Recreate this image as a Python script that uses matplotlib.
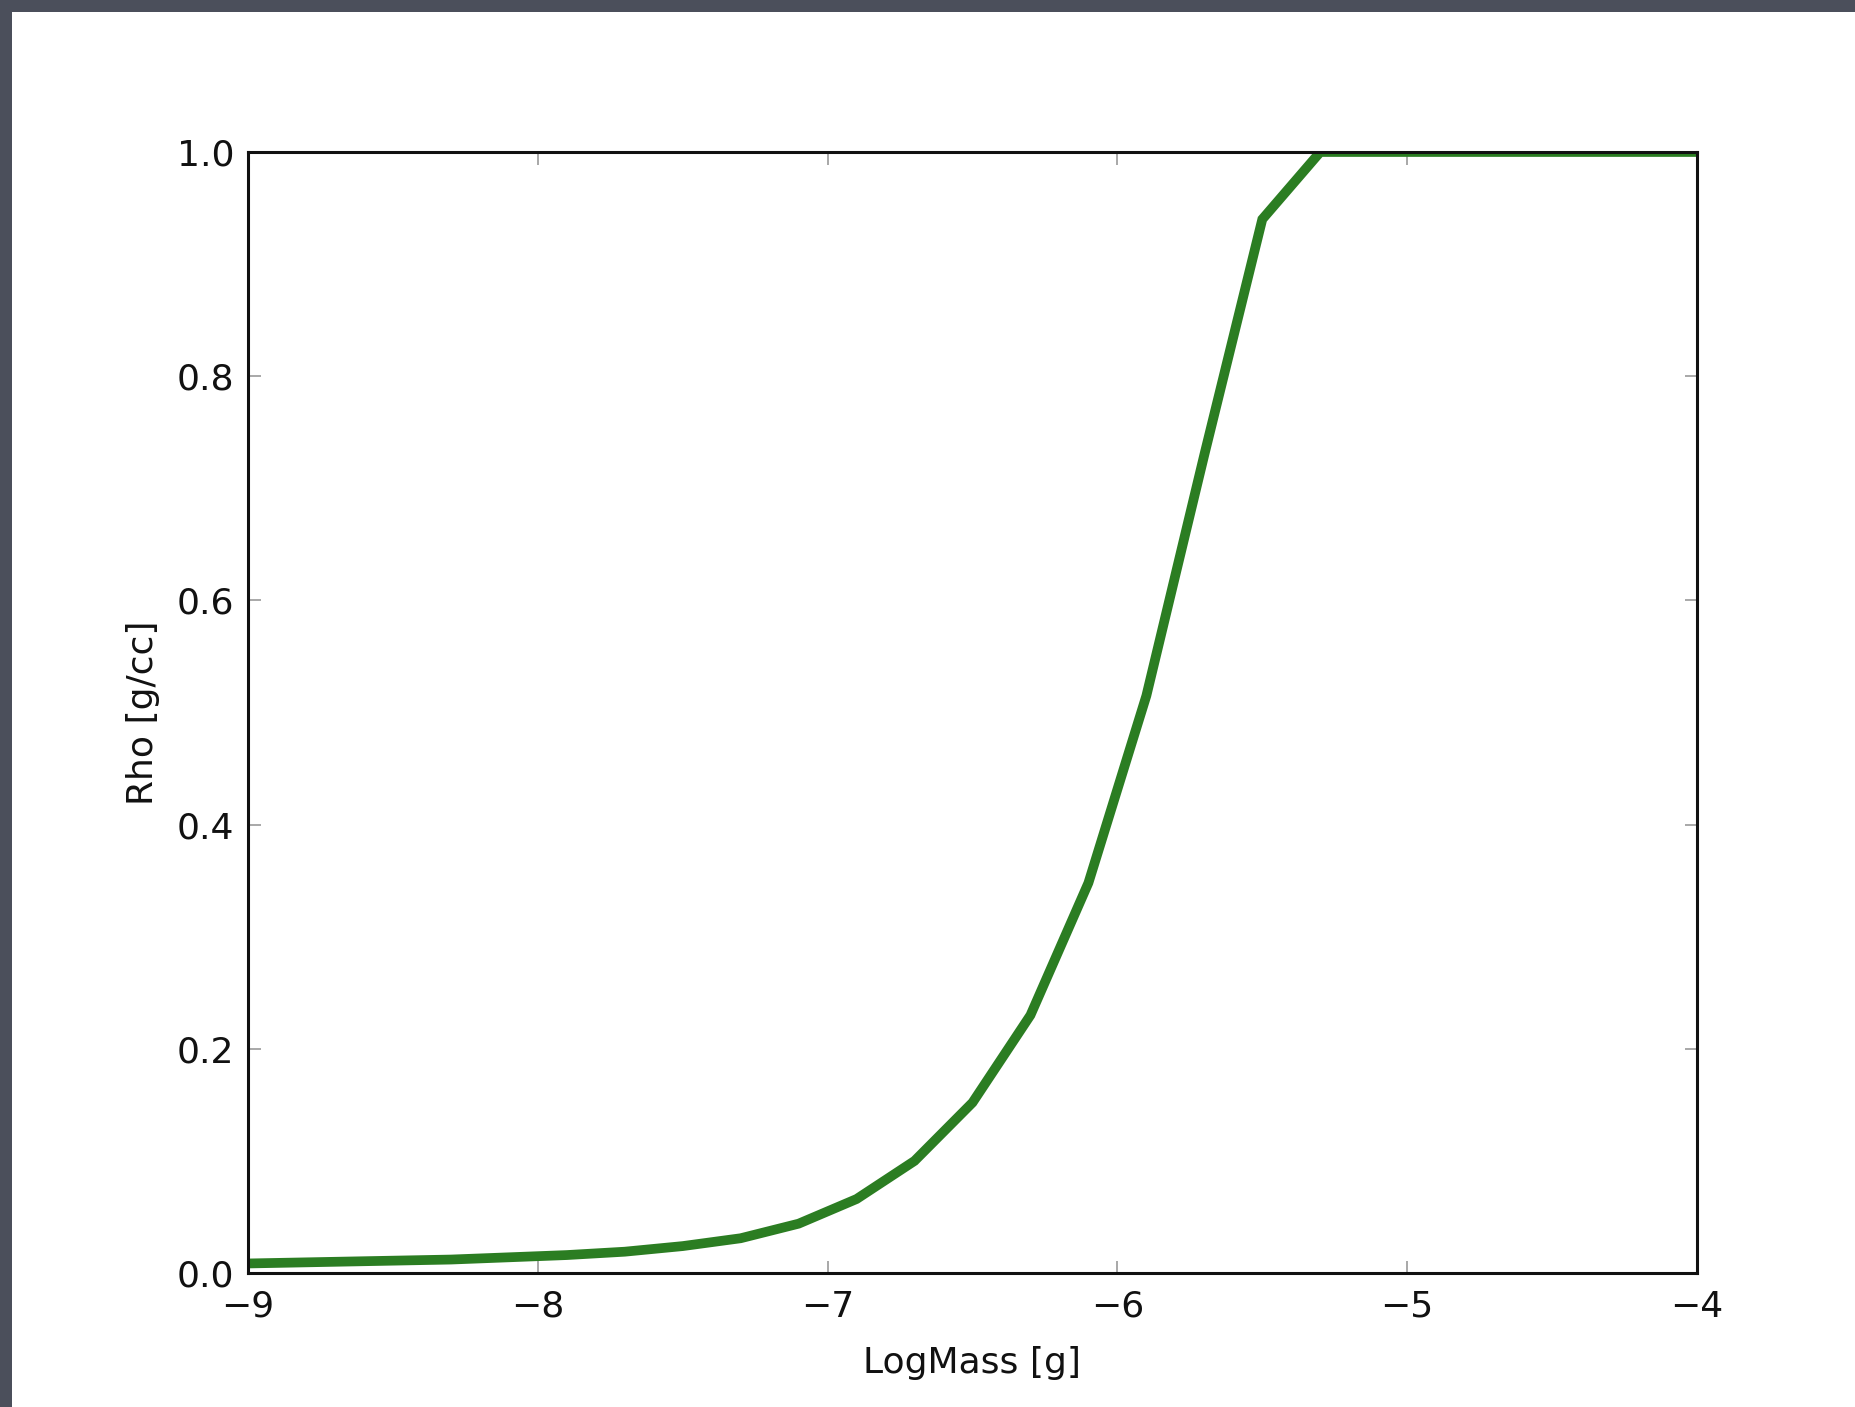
import matplotlib
matplotlib.use("Agg")
from matplotlib import pyplot as plt
from matplotlib.patches import Rectangle

# log mass [g] and density
log_mass = [-9.1, -8.9, -8.7, -8.5, -8.3, -8.1, -7.9, -7.7, -7.5, -7.3, -7.1,
            -6.9, -6.7, -6.5, -6.3, -6.1, -5.9, -5.7, -5.5, -5.3, -4.0]
rho = [0.008, 0.009, 0.010, 0.011, 0.012, 0.014, 0.016, 0.019, 0.024, 0.031, 0.044,
       0.066, 0.100, 0.152, 0.230, 0.348, 0.515, 0.730, 0.940, 1.000, 1.000]

x_ticks = [-9, -8, -7, -6, -5, -4]
y_ticks = [0.0, 0.2, 0.4, 0.6, 0.8, 1.0]

W, H = 1856, 1407
fig = plt.figure(figsize=(W / 100, H / 100), dpi=100, facecolor="#4b4f5b")

# white slide area, dark strip only on top and left
fig.patches.append(Rectangle((12 / W, 0), 1, 1 - 12 / H, transform=fig.transFigure,
                             facecolor="white", edgecolor="none", zorder=-10))

ax = fig.add_axes([248 / W, 1 - 1273 / H, (1697 - 248) / W, (1273 - 152) / H])
ax.set_zorder(5)
ax.plot(log_mass, rho, color="#2b7d22", linewidth=7, solid_joinstyle="miter")

ax.set_xlim(-9, -4)
ax.set_ylim(0, 1)
ax.set_xticks(x_ticks)
ax.set_yticks(y_ticks)
ax.set_xticklabels([f"\u2212{abs(v)}" for v in x_ticks])
ax.set_yticklabels([f"{v:.1f}" for v in y_ticks])

ax.tick_params(direction="in", length=9, width=1.2, color="#999999",
               top=True, right=True, labelsize=26, pad=10, labelcolor="#111111")
ax.tick_params(axis="x", pad=12)
for s in ax.spines.values():
    s.set_linewidth(2.2)
    s.set_color("#111111")

ax.set_xlabel("LogMass [g]", fontsize=26, color="#111111", labelpad=16)
ax.set_ylabel("Rho [g/cc]", fontsize=26, color="#111111", labelpad=12)

plt.savefig("out.png", dpi=100, facecolor=fig.get_facecolor())
